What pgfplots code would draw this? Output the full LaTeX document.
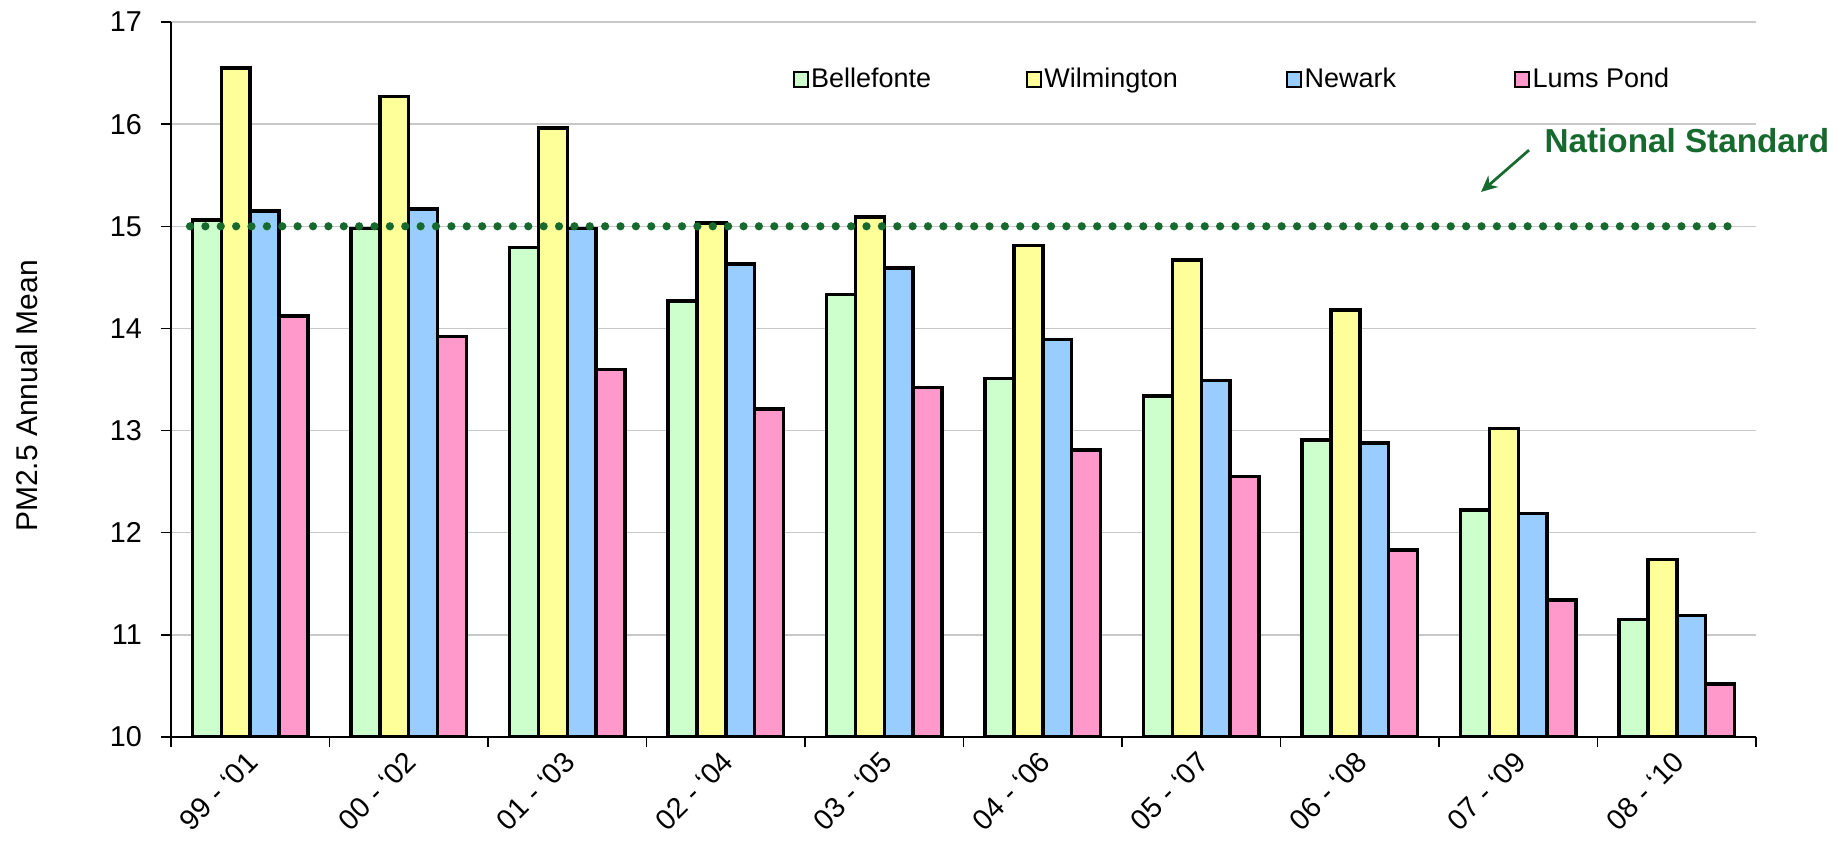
\documentclass[border=0pt]{standalone}
\usepackage{pgfplots}
\pgfplotsset{compat=1.18}
\usepackage{pgfplotstable}
\usepackage{fontspec}
\setmainfont{Liberation Sans}
\usetikzlibrary{arrows.meta}
\definecolor{bell}{RGB}{204,255,204}
\definecolor{wilm}{RGB}{255,255,153}
\definecolor{newark}{RGB}{153,204,255}
\definecolor{lums}{RGB}{255,153,204}
\definecolor{natgreen}{RGB}{22,106,46}
\definecolor{gridgray}{RGB}{200,200,200}

\pgfplotstableread{
x bell wilm newark lums
0 15.06 16.55 15.15 14.12
1 14.98 16.27 15.17 13.92
2 14.79 15.96 14.98 13.60
3 14.27 15.03 14.63 13.21
4 14.33 15.09 14.59 13.42
5 13.51 14.81 13.89 12.81
6 13.34 14.67 13.49 12.55
7 12.91 14.18 12.88 11.83
8 12.22 13.02 12.19 11.34
9 11.15 11.74 11.19 10.52
}\datatable

\begin{document}
\begin{tikzpicture}
\begin{axis}[
  scale only axis, width=634pt, height=286pt,
  ybar=0pt, bar width=0.1825,
  xmin=-0.5, xmax=9.5, ymin=10, ymax=17,
  xtick={-0.5,0.5,...,9.5},
  xticklabels={},
  extra x ticks={0,1,2,3,4,5,6,7,8,9},
  extra x tick labels={99 - \textquoteleft01, 00 - \textquoteleft02, 01 - \textquoteleft03, 02 - \textquoteleft04, 03 - \textquoteleft05, 04 - \textquoteleft06, 05 - \textquoteleft07, 06 - \textquoteleft08, 07 - \textquoteleft09, 08 - \textquoteleft10},
  extra x tick style={major tick length=0pt, grid=none},
  ytick={10,11,...,17},
  axis x line*=bottom, axis y line*=left,
  axis line style={-, black, line width=0.6pt},
  tick align=outside,
  major tick length=4pt,
  tick style={black, line width=0.6pt},
  ymajorgrids, grid style={draw=gridgray, line width=0.6pt},
  clip mode=individual,
  /pgf/number format/assume math mode=true,
  tick label style={font=\fontsize{11.5}{13}\selectfont},
  yticklabel style={anchor=east, inner sep=0pt, xshift=-7.5pt},
  xticklabel style={xshift=1pt, yshift=-8pt, rotate=45, anchor=east, inner sep=0pt},
  ylabel={PM2.5 Annual Mean},
  ylabel style={at={(axis description cs:-0.0908,0.477)}, anchor=center, font=\fontsize{12}{14}\selectfont},
  legend columns=4,
  legend image code/.code={\draw[#1, line width=0.8pt] (0pt,-3pt) rectangle (5.5pt,3pt);},
  legend style={at={(0.392,0.919)}, anchor=west, draw=none, fill=none, inner sep=0pt,
    font=\fontsize{10.8}{12}\selectfont, nodes={inner sep=1pt},
    /tikz/column 2/.style={column sep=37pt},
    /tikz/column 4/.style={column sep=42.4pt},
    /tikz/column 6/.style={column sep=46.3pt}},
]
\addplot[fill=bell, draw=black, line width=1.4pt] table[x=x, y=bell] {\datatable};
\addlegendentry{Bellefonte}
\addplot[fill=wilm, draw=black, line width=1.4pt] table[x=x, y=wilm] {\datatable};
\addlegendentry{Wilmington}
\addplot[fill=newark, draw=black, line width=1.4pt] table[x=x, y=newark] {\datatable};
\addlegendentry{Newark}
\addplot[fill=lums, draw=black, line width=1.4pt] table[x=x, y=lums] {\datatable};
\addlegendentry{Lums Pond}
\addplot[sharp plot, forget plot, draw=natgreen, line width=3.3pt, line cap=round, dash pattern=on 0pt off 6.15pt] coordinates {(-0.38,15) (9.33,15)};
\node[font=\bfseries\fontsize{13.3}{15}\selectfont, text=natgreen, anchor=center] at (axis cs:9.064,15.837) {National Standard};
\draw[-{Stealth[length=6.5pt,width=6pt]}, natgreen, line width=1.1pt] (axis cs:8.068,15.746) -- (axis cs:7.765,15.336);
\end{axis}
\pgfresetboundingbox
\path[use as bounding box] ([xshift=-68.4pt,yshift=-42.8pt]current axis.south west) rectangle ([xshift=36.8pt,yshift=8.8pt]current axis.north east);
\end{tikzpicture}
\end{document}
